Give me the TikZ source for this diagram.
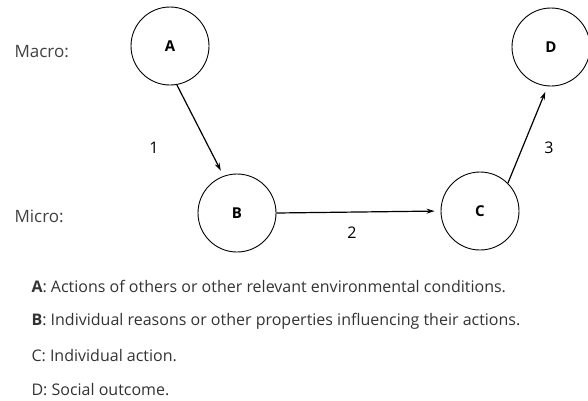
\documentclass[tikz,border=0pt]{standalone}
\usepackage{fontspec}
\setmainfont{Open Sans}
\usetikzlibrary{arrows.meta,positioning}

\begin{document}
\begin{tikzpicture}[
    x=1pt, y=-1pt,
    font=\fontsize{16}{18}\selectfont,
    state/.style={
        draw,
        circle,
        line width=0.9pt,
        minimum size=78pt,
        inner sep=0pt,
        font=\fontsize{15}{17}\selectfont\bfseries
    },
    level/.style={anchor=west, text=black!75, font=\fontsize{17}{19}\selectfont},
    legend/.style={anchor=west, text=black!80},
    flow/.style={-{Stealth[length=8pt,width=5pt]}, line width=1.2pt, shorten >=6pt}
]
\useasboundingbox (0,0) rectangle (588,400);

\node[level] (macro) at (11,52) {Macro:};
\node[level] (micro) at (11,216) {Micro:};

\node[state] (a) at (170,46) {A};
\node[state] (b) at (237,213) {B};
\node[state] (c) at (480,211) {C};
\node[state] (d) at (551,47) {D};

\draw[flow] (a.-80) -- (b.110);
\draw[flow] (b.east) -- (c.west);
\draw[flow] (c.45) -- (d.-95);

\node (one) at (154,148) {1};
\node (two) at (352,233) {2};
\node (three) at (549,148) {3};

\node[legend] (legA) at (28,286) {\textbf{A}: Actions of others or other relevant environmental conditions.};
\node[legend] (legB) at (28,321) {\textbf{B}: Individual reasons or other properties influencing their actions.};
\node[legend] (legC) at (28,356) {C: Individual action.};
\node[legend] (legD) at (28,390) {D: Social outcome.};

\end{tikzpicture}
\end{document}
